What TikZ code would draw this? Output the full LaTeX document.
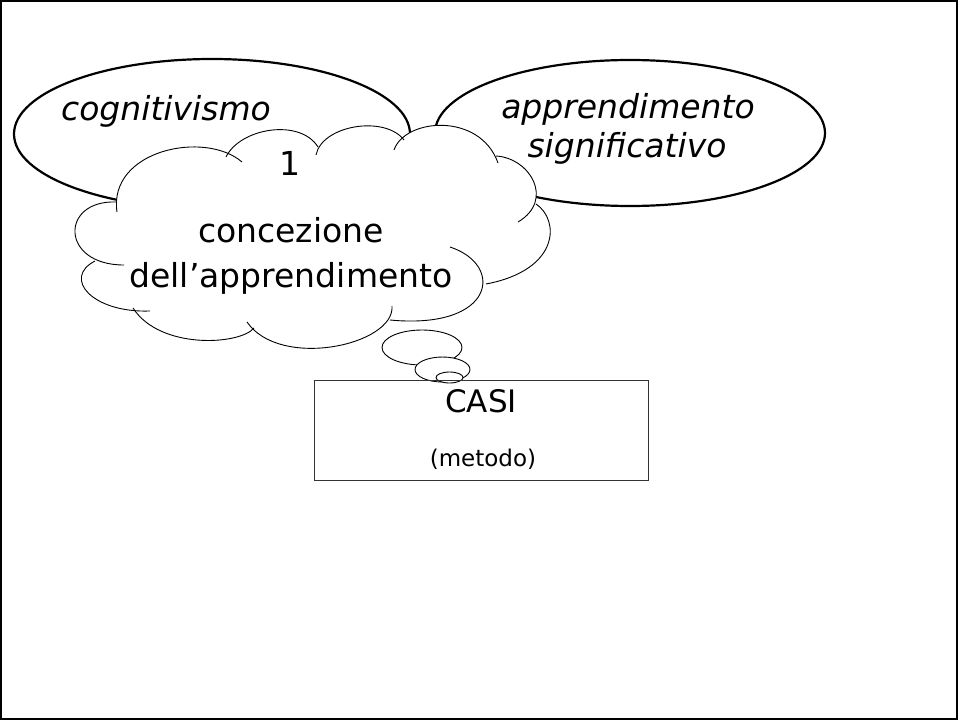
\documentclass[tikz,border=0pt]{standalone}
\usepackage{fontspec}
\setmainfont{DejaVu Sans}
\usetikzlibrary{shapes.geometric}
\begin{document}
\begin{tikzpicture}[x=1pt,y=-1pt,
  oval/.style={ellipse, draw=black, line width=2.2pt, inner sep=0pt},
  thought/.style={ellipse, draw=black, line width=0.9pt, fill=white, inner sep=0pt},
  cloudline/.style={draw=black, line width=0.9pt, line join=round},
  bigtext/.style={font=\fontsize{33}{39}\selectfont, inner sep=0pt, anchor=base},
  slanted/.style={font=\fontsize{33}{39}\selectfont\itshape, inner sep=0pt, anchor=base},
  casebox/.style={draw=black!80, line width=1pt, inner sep=0pt}]

\useasboundingbox (0,0) rectangle (958,720);
\draw[line width=2pt] (1,1) rectangle (957,719);

% the two theory ovals behind the cloud
\node[oval, minimum width=396pt, minimum height=150pt] (cog) at (212,134) {};
\node[oval, minimum width=390pt, minimum height=146pt] (sig) at (630,133) {};

% cloud puffs: start / control / control / end
\def\puffs{117/212/108/150/205/130/242/162,
  226/157/240/128/300/118/318/147,
  316/155/322/125/385/115/404/140,
  394/150/405/118/480/112/498/163,
  496/156/530/158/555/200/518/222,
  536/204/560/220/560/270/486/284,
  450/247/505/265/495/330/390/320,
  392/306/395/345/280/370/247/322,
  254/328/240/345/160/350/133/308,
  150/311/92/313/62/278/95/261,
  124/265/60/265/60/200/116/202}

% white body of the cloud
\fill[white] (115,204) -- (228,156) -- (318,148) -- (400,145) -- (497,156)
  -- (537,205) -- (487,283) -- (390,318) -- (254,330) -- (135,310) -- (93,262) -- cycle;
\foreach \sx/\sy/\ax/\ay/\bx/\by/\ex/\ey in \puffs
  \fill[white] (\sx,\sy) .. controls (\ax,\ay) and (\bx,\by) .. (\ex,\ey) -- cycle;
% outline of the puffs
\foreach \sx/\sy/\ax/\ay/\bx/\by/\ex/\ey in \puffs
  \draw[cloudline] (\sx,\sy) .. controls (\ax,\ay) and (\bx,\by) .. (\ex,\ey);

% trailing thought bubbles
\node[thought, minimum width=80pt, minimum height=35pt] (b1) at (422,347.5) {};
\node[thought, minimum width=55pt, minimum height=25pt] (b2) at (442.5,369.5) {};
\node[thought, minimum width=27pt, minimum height=11pt] (b3) at (449.5,377.5) {};

% method box
\node[casebox, minimum width=334pt, minimum height=100pt] (casi) at (481,430) {};

% texts
\node[slanted] (tcog) at (166,120) {cognitivismo};
\node[slanted] (tsig1) at (628,118) {apprendimento};
\node[slanted] (tsig2) at (627,157) {significativo};
\node[bigtext] (tnum) at (290,175) {1};
\node[bigtext] (tcon1) at (291,242) {concezione};
\node[bigtext] (tcon2) at (291,287) {dell’apprendimento};
\node[bigtext, font=\fontsize{31}{36}\selectfont] (tcasi) at (481,412) {CASI};
\node[bigtext, font=\fontsize{23}{27}\selectfont] (tmet) at (483,466) {(metodo)};
\end{tikzpicture}
\end{document}
